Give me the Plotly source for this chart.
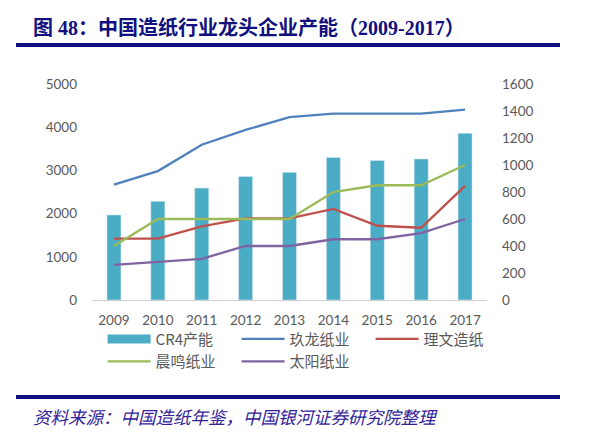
import plotly.graph_objects as go

# data
years = ['2009', '2010', '2011', '2012', '2013', '2014', '2015', '2016', '2017']
cr4 = [1970, 2285, 2590, 2860, 2955, 3300, 3230, 3265, 3860]      # left axis
jiulong = [855, 955, 1150, 1260, 1355, 1380, 1380, 1380, 1410]     # right axis
liwen = [455, 455, 545, 605, 605, 675, 550, 535, 845]
chenming = [400, 600, 600, 600, 600, 800, 850, 850, 1000]
taiyang = [260, 280, 305, 400, 400, 450, 450, 495, 600]

left_ticks = [0, 1000, 2000, 3000, 4000, 5000]
right_ticks = [0, 200, 400, 600, 800, 1000, 1200, 1400, 1600]

gray = '#595959'
navy = '#10107e'
tick_font = dict(family='Lato, Liberation Sans, sans-serif', size=13.5, color=gray)

fig = go.Figure()

fig.add_trace(go.Bar(x=years, y=cr4, name='CR4产能', marker_color='#4bacc6',
                     showlegend=False))
# legend proxy for the bars (flat wide swatch like the original)
fig.add_trace(go.Scatter(x=[None], y=[None], mode='lines', name='CR4产能',
                         line=dict(color='#4bacc6', width=9)))

lines = [('玖龙纸业', jiulong, '#4f81bd'),
         ('理文造纸', liwen, '#c0504d'),
         ('晨鸣纸业', chenming, '#9bbb59'),
         ('太阳纸业', taiyang, '#8064a2')]
for name, vals, col in lines:
    fig.add_trace(go.Scatter(x=years, y=vals, name=name, mode='lines', yaxis='y2',
                             line=dict(color=col, width=2.3)))

fig.update_layout(
    width=593, height=435,
    margin=dict(l=92, r=106, t=84, b=135, autoexpand=False),
    paper_bgcolor='white', plot_bgcolor='white',
    bargap=0.68,
    xaxis=dict(type='category', showgrid=False, showline=True, linecolor='#d0d0d0',
               linewidth=1, ticks='', tickfont=tick_font, ticklabelstandoff=8),
    yaxis=dict(range=[0, 5000], tickvals=left_ticks, showgrid=False, zeroline=False,
               showline=False, ticks='', tickfont=tick_font, ticklabelstandoff=14),
    yaxis2=dict(range=[0, 1600], tickvals=right_ticks, overlaying='y', side='right',
                showgrid=False, zeroline=False, showline=False, ticks='',
                tickfont=tick_font, ticklabelstandoff=14),
    legend=dict(orientation='h', x=-0.001, xanchor='left', y=-0.105, yanchor='top',
                font=dict(family='Noto Sans CJK SC, Lato, sans-serif', size=15, color=gray),
                itemwidth=43, entrywidth=65, traceorder='normal', indentation=11,
                bgcolor='rgba(0,0,0,0)'),
)

# title and source text
fig.add_annotation(text='<b>图 48：中国造纸行业龙头企业产能（2009-2017）</b>',
                   xref='paper', yref='paper', x=(31 - 92) / 395, y=(300 - 27) / 216,
                   xanchor='left', yanchor='middle', showarrow=False,
                   font=dict(family='Liberation Serif, Noto Sans CJK SC, serif', size=20, color=navy))
fig.add_annotation(text='<i>资料来源：中国造纸年鉴，中国银河证券研究院整理</i>',
                   xref='paper', yref='paper', x=(31 - 92) / 395, y=(300 - 417) / 216,
                   xanchor='left', yanchor='middle', showarrow=False,
                   font=dict(family='Noto Sans CJK SC, sans-serif', size=17.5, color='#33229a'))

# the two dark rules
for ypix in (45, 397):
    fig.add_shape(type='line', xref='paper', yref='paper',
                  x0=(16 - 92) / 395, x1=(560 - 92) / 395,
                  y0=(300 - ypix) / 216, y1=(300 - ypix) / 216,
                  line=dict(color=navy, width=4))

# page body has a default 8px margin; drop it so the figure sits at 0,0
fig.write_html("out.html", config={'displayModeBar': False},
               post_script="document.body.style.margin='0';")
